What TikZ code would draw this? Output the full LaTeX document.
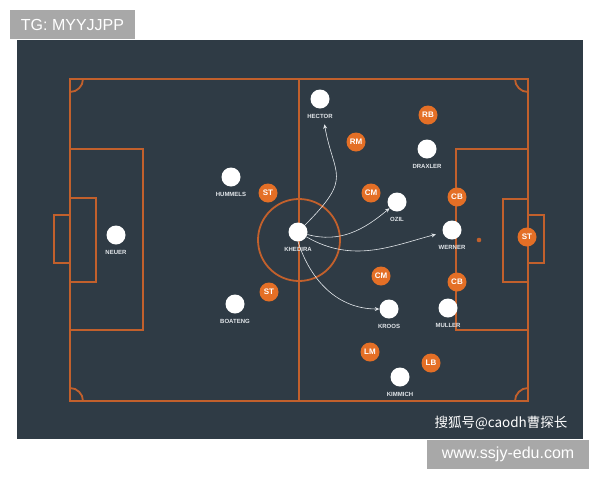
\documentclass[tikz,border=0pt]{standalone}
\usepackage{fontspec}
\setmainfont{Liberation Sans}
\newfontfamily\cjkfont{Noto Sans CJK SC}
\usepackage{tikz}
\usetikzlibrary{arrows.meta}
\definecolor{pitch}{HTML}{2F3B45}
\definecolor{chalk}{HTML}{C2602C}
\definecolor{role}{HTML}{E46F26}
\definecolor{tag}{HTML}{A8A8A8}
\definecolor{pass}{HTML}{E2E6EA}
\tikzstyle{field} =
        [
                draw = chalk,
                line width = 1.8pt
        ]
\tikzstyle{player} =
        [
                circle,
                fill = white,
                minimum size = 19pt,
                inner sep = 0pt
        ]
\tikzstyle{pname} =
        [
                font = \bfseries\fontsize{6}{7}\selectfont,
                text = pass,
                inner sep = 0.5pt,
                label distance = 5pt
        ]
\tikzstyle{position} =
        [
                circle,
                fill = role,
                text = white,
                font = \bfseries\fontsize{8}{9}\selectfont,
                minimum size = 19pt,
                inner sep = 0pt
        ]
\tikzstyle{line} =
        [
                draw = pass,
                line width = 0.6pt,
                -{Stealth[length = 4.5pt, width = 4pt]}
        ]
\tikzstyle{watermark} =
        [
                fill = tag,
                text = white,
                font = \fontsize{16}{18}\selectfont,
                inner sep = 0pt
        ]

\begin{document}
\begin{tikzpicture}[x = 1pt, y = 1pt]
        \useasboundingbox (0,0) rectangle (600,-480);
        \fill [white] (0,0) rectangle (600,-480);
        \fill [pitch] (17,-40) rectangle (583,-439);
        % pitch markings
        \draw [field] (70,-79) rectangle (528,-401);
        \draw [field] (299,-79) -- (299,-401);
        \draw [field] (299,-240) circle [radius = 41];
        \draw [field] (70,-149) rectangle (143,-330);
        \draw [field] (70,-198) rectangle (96,-282);
        \draw [field] (54,-215) rectangle (70,-263);
        \draw [field] (456,-149) rectangle (528,-330);
        \draw [field] (503,-199) rectangle (528,-282);
        \draw [field] (528,-215) rectangle (544,-263);
        \draw [field] (83,-79) arc [start angle = 0, end angle = -90, radius = 13];
        \draw [field] (515,-79) arc [start angle = 180, end angle = 270, radius = 13];
        \draw [field] (83,-401) arc [start angle = 0, end angle = 90, radius = 13];
        \draw [field] (515,-401) arc [start angle = 180, end angle = 90, radius = 13];
        \fill [chalk] (479,-240) circle [radius = 2.3];
        % players
        \node [player, label = {[pname]below:NEUER}] (neuer) at (116,-235) {};
        \node [player, label = {[pname]below:HUMMELS}] (hummels) at (231,-177) {};
        \node [player, label = {[pname]below:BOATENG}] (boateng) at (235,-304) {};
        \node [player, label = {[pname]below:KHEDIRA}] (khedira) at (298,-232) {};
        \node [player, label = {[pname]below:HECTOR}] (hector) at (320,-99) {};
        \node [player, label = {[pname]below:DRAXLER}] (draxler) at (427,-149) {};
        \node [player, label = {[pname]below:OZIL}] (ozil) at (397,-202) {};
        \node [player, label = {[pname]below:WERNER}] (werner) at (452,-230) {};
        \node [player, label = {[pname]below:KROOS}] (kroos) at (389,-309) {};
        \node [player, label = {[pname]below:MULLER}] (muller) at (448,-308) {};
        \node [player, label = {[pname]below:KIMMICH}] (kimmich) at (400,-377) {};
        % opponents
        \node [position] (st1) at (268,-193) {ST};
        \node [position] (st2) at (269,-292) {ST};
        \node [position] (rm) at (356,-142) {RM};
        \node [position] (rb) at (428,-115) {RB};
        \node [position] (cm1) at (371,-193) {CM};
        \node [position] (cb1) at (457,-197) {CB};
        \node [position] (st3) at (527,-237) {ST};
        \node [position] (cm2) at (381,-276) {CM};
        \node [position] (cb2) at (457,-282) {CB};
        \node [position] (lm) at (370,-352) {LM};
        \node [position] (lb) at (431,-363) {LB};
        % passes
        \path [line, shorten > = 16pt] (khedira) to [out = 45, in = -80, looseness = 1.5] (hector);
        \path [line] (khedira) to [out = -15, in = -140] (ozil);
        \path [line, shorten > = 7pt] (khedira) to [out = -30, in = -165] (werner);
        \path [line] (khedira.south) to [out = -72, in = 180] (kroos);
        % captions
        \node [watermark, minimum width = 125pt, minimum height = 29pt] (tg) at (72.5,-24.5) {TG: MYYJJPP};
        \node [watermark, minimum width = 162pt, minimum height = 29pt] (site) at (508,-454.5) {www.ssjy-edu.com};
        \node [text = white, font = \cjkfont\fontsize{13.5}{15}\selectfont, inner sep = 0pt] (sohu) at (501,-423) {搜狐号@caodh曹探长};
\end{tikzpicture}
\end{document}
